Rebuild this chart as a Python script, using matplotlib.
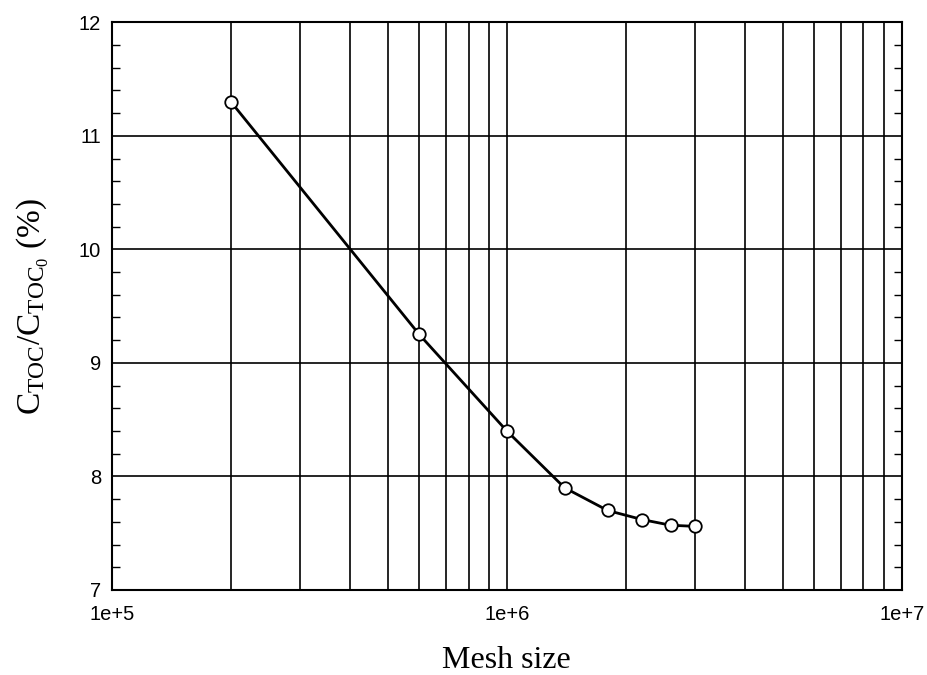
import numpy as np
import matplotlib
matplotlib.use('Agg')
import matplotlib.pyplot as plt
from matplotlib.ticker import LogLocator, FixedLocator, MultipleLocator

# data
mesh_size = [2e5, 6e5, 1e6, 1.4e6, 1.8e6, 2.2e6, 2.6e6, 3e6]
toc_ratio = [11.3, 9.25, 8.4, 7.9, 7.7, 7.62, 7.57, 7.56]

x_ticks = [1e5, 1e6, 1e7]
x_tick_labels = ['1e+5', '1e+6', '1e+7']
y_ticks = [7, 8, 9, 10, 11, 12]

plt.rcParams['mathtext.fontset'] = 'custom'
plt.rcParams['mathtext.rm'] = 'Liberation Serif'

fig = plt.figure(figsize=(9.28, 6.75), dpi=100)
ax = fig.add_axes([0.1207, 0.126, 0.851, 0.841])

ax.plot(mesh_size, toc_ratio, color='black', lw=2, marker='o', ms=9,
        mfc='white', mec='black', mew=1.3, zorder=3)

ax.set_xscale('log')
ax.set_xlim(1e5, 1e7)
ax.set_ylim(7, 12)

ax.xaxis.set_major_locator(FixedLocator(x_ticks))
ax.set_xticklabels(x_tick_labels)
ax.xaxis.set_minor_locator(LogLocator(base=10, subs=np.arange(2, 10)))
ax.xaxis.set_minor_formatter(plt.NullFormatter())
ax.set_yticks(y_ticks)
ax.yaxis.set_minor_locator(MultipleLocator(0.2))

ax.grid(True, which='major', color='black', lw=1.2)
ax.grid(True, which='minor', axis='x', color='black', lw=1.2)

ax.tick_params(axis='x', which='both', length=0, pad=11, labelsize=14.5)
ax.tick_params(axis='y', which='major', length=0, pad=8, labelsize=14.5)
ax.tick_params(axis='y', which='minor', direction='in', length=6, width=1,
               left=True, right=True)
for lbl in ax.get_xticklabels() + ax.get_yticklabels():
    lbl.set_family('Liberation Sans')

for s in ax.spines.values():
    s.set_linewidth(1.5)

ax.set_xlabel('Mesh size', family='Liberation Serif', fontsize=23, labelpad=16)
ax.set_ylabel(r'$\mathregular{C_{TOC}/C_{TOC_0}}$ (%)', family='Liberation Serif',
              fontsize=24, labelpad=20)

fig.savefig('out.png', dpi=100)
